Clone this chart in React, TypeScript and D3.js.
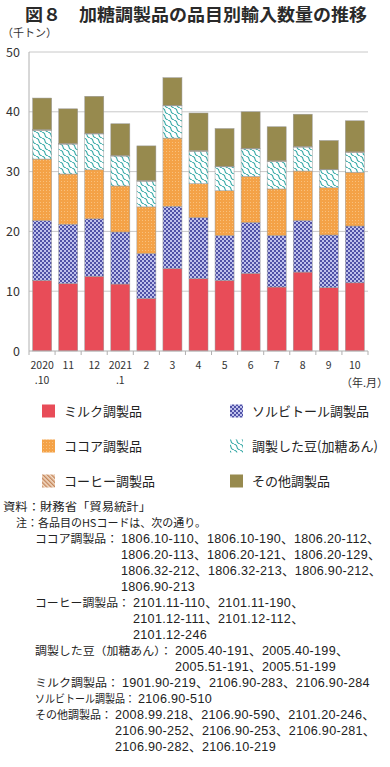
import React from "react"
import * as d3 from "d3"

const months = ["2020\n.10", "11", "12", "2021\n.1", "2", "3", "4", "5", "6", "7", "8", "9", "10"]
const seriesNames = ["ミルク調製品", "ソルビトール調製品", "ココア調製品", "調製した豆(加糖あん)", "コーヒー調製品", "その他調製品"]

const milk = [11.8, 11.3, 12.5, 11.2, 8.8, 13.8, 12.1, 11.8, 13.0, 10.7, 13.2, 10.6, 11.4]
const sorbitol = [10.0, 9.9, 9.6, 8.7, 7.5, 10.4, 10.2, 7.5, 8.5, 8.6, 8.6, 8.8, 9.5]
const cocoa = [10.3, 8.4, 8.2, 7.7, 7.8, 11.4, 5.7, 7.5, 7.7, 7.8, 8.3, 7.9, 9.0]
const beans = [4.8, 5.0, 6.0, 5.0, 4.3, 5.4, 5.4, 4.0, 4.6, 4.6, 4.0, 3.0, 3.3]
const coffee = [0.1, 0.1, 0.1, 0.1, 0.1, 0.1, 0.1, 0.1, 0.1, 0.1, 0.1, 0.1, 0.1]
const others = [5.3, 5.8, 6.2, 5.3, 5.8, 4.6, 6.3, 6.3, 6.1, 5.7, 5.4, 4.8, 5.2]

const yTicks = [0, 10, 20, 30, 40, 50]

const notes = [
  { label: "ココア調製品：", codes: ["1806.10-110、1806.10-190、1806.20-112、", "1806.20-113、1806.20-121、1806.20-129、", "1806.32-212、1806.32-213、1806.90-212、", "1806.90-213"] },
  { label: "コーヒー調製品：", codes: ["2101.11-110、2101.11-190、", "2101.12-111、2101.12-112、", "2101.12-246"] },
  { label: "調製した豆（加糖あん）：", codes: ["2005.40-191、2005.40-199、", "2005.51-191、2005.51-199"] },
  { label: "ミルク調製品：", codes: ["1901.90-219、2106.90-283、2106.90-284"] },
  { label: "ソルビトール調製品：", codes: ["2106.90-510"] },
  { label: "その他調製品：", codes: ["2008.99.218、2106.90-590、2101.20-246、", "2106.90-252、2106.90-253、2106.90-281、", "2106.90-282、2106.10-219"] },
]

const fills = ["#e84c58", "url(#pSorb)", "url(#pCocoa)", "url(#pBean)", "url(#pCoffee)", "#978a4e"]
const codeX = [121, 133, 175, 122, 138, 115]
const font = "'Noto Sans CJK JP', 'Noto Sans', sans-serif"
const codeFont = "'Liberation Sans', 'Noto Sans CJK JP', sans-serif"

export default function App() {
  const width = 390
  const height = 767
  const margin = { top: 52, left: 29, right: 22, bottom: 416 }

  const rows = months.map((m, i) => ({
    m,
    s0: milk[i], s1: sorbitol[i], s2: cocoa[i], s3: beans[i], s4: coffee[i], s5: others[i],
  }))
  const keys = ["s0", "s1", "s2", "s3", "s4", "s5"]
  const stacked = d3.stack<any>().keys(keys)(rows)

  const x = d3.scaleBand().domain(months).range([margin.left, width - margin.right]).paddingInner(0.27).paddingOuter(0.14)
  const y = d3.scaleLinear().domain([0, 50]).range([height - margin.bottom, margin.top])
  const bounds = d3.range(months.length + 1).map((i) => margin.left + i * ((width - margin.right - margin.left) / months.length))

  const legendRows = [411, 446, 481]
  const legendX = [42, 230]

  let line = 0
  const noteStart = 511
  const lh = 16

  return (
    <svg width={width} height={height} style={{ position: "absolute", left: 0, top: 0, background: "#fff" }} fontFamily={font}>
      <defs>
        <pattern id="pSorb" patternUnits="userSpaceOnUse" width={4} height={4}>
          <rect width={4} height={4} fill="#bfc1ec" />
          <rect width={2} height={2} fill="#5052a6" />
          <rect x={2} y={2} width={2} height={2} fill="#5052a6" />
        </pattern>
        <pattern id="pCocoa" patternUnits="userSpaceOnUse" width={3} height={3}>
          <rect width={3} height={3} fill="#f4a247" />
          <rect x={1} y={1} width={1} height={1} fill="#f9c07c" />
        </pattern>
        <pattern id="pBean" patternUnits="userSpaceOnUse" width={6} height={6}>
          <rect width={6} height={6} fill="#ffffff" />
          <path d="M0,0 Q3,1 3,3 T6,6 M-6,0 Q-3,1 -3,3 T0,6 M6,0 Q9,1 9,3 T12,6" fill="none" stroke="#37aaa7" strokeWidth={1.1} />
        </pattern>
        <pattern id="pCoffee" patternUnits="userSpaceOnUse" width={3} height={3} patternTransform="rotate(-45)">
          <rect width={3} height={3} fill="#f3dcc6" />
          <rect width={1.4} height={3} fill="#c4865b" />
        </pattern>
      </defs>

      <text x={25} y={21} textLength={342} lengthAdjust="spacingAndGlyphs" fontSize={17.5} fontWeight="bold" fill="#2a2a2a">図８　加糖調製品の品目別輸入数量の推移</text>
      <text x={2} y={37} fontSize={11} fill="#333">（千トン）</text>

      {yTicks.map((t) => (
        <g key={t}>
          {t > 0 && <line x1={margin.left} x2={width - margin.right} y1={y(t)} y2={y(t)} stroke="#c8c8c8" strokeWidth={1} />}
          <text x={20} y={y(t) + 4.5} textAnchor="end" fontSize={12.5} fill="#333">{t}</text>
        </g>
      ))}

      {stacked.map((layer, li) =>
        layer.map((d, i) => (
          <rect
            key={`${li}-${i}`}
            x={x(months[i])}
            width={x.bandwidth()}
            y={y(d[1])}
            height={Math.max(0, y(d[0]) - y(d[1]))}
            fill={fills[li]}
            stroke="#9a9a9a"
            strokeWidth={0.5}
          />
        ))
      )}

      <line x1={margin.left} x2={margin.left} y1={y(50)} y2={y(0)} stroke="#b0b0b0" />
      <line x1={margin.left} x2={width - margin.right} y1={y(0)} y2={y(0)} stroke="#b0b0b0" />
      {bounds.map((b, i) => (
        <line key={i} x1={b} x2={b} y1={y(0)} y2={y(0) + 4} stroke="#b0b0b0" />
      ))}

      {months.map((m) => {
        const cx = (x(m) || 0) + x.bandwidth() / 2
        return m.split("\n").map((part, j) => (
          <text key={m + j} x={cx} y={369 + j * 15} textAnchor="middle" fontSize={10.5} fill="#333">{part}</text>
        ))
      })}
      <text x={388} y={387} textAnchor="end" fontSize={11} fill="#333">（年.月）</text>

      {seriesNames.map((name, i) => {
        const col = i % 2
        const row = Math.floor(i / 2)
        const lx = legendX[col]
        const ly = legendRows[row]
        return (
          <g key={name}>
            <rect x={lx} y={ly - 6.5} width={13} height={13} fill={fills[i]} />
            <text x={lx + 22} y={ly + 5} fontSize={13} fill="#222">{name}</text>
          </g>
        )
      })}

      <text x={3} y={noteStart} fontSize={11} textLength={148} lengthAdjust="spacingAndGlyphs" fill="#222">資料：財務省「貿易統計」</text>
      <text x={16} y={noteStart + lh} fontSize={11} textLength={190} lengthAdjust="spacingAndGlyphs" fill="#222">注：各品目のHSコードは、次の通り。</text>
      {notes.map((n, ni) => {
        const base = 2 + line
        line += n.codes.length
        return (
          <g key={ni}>
            <text x={35} y={noteStart + base * lh} fontSize={11} textLength={codeX[ni] - 38} lengthAdjust="spacingAndGlyphs" fill="#222">{n.label}</text>
            {n.codes.map((c, ci) => (
              <text key={ci} x={codeX[ni]} y={noteStart + (base + ci) * lh} fontFamily={codeFont} fontSize={12.6} letterSpacing={0.3} fill="#222">{c}</text>
            ))}
          </g>
        )
      })}
    </svg>
  )
}
